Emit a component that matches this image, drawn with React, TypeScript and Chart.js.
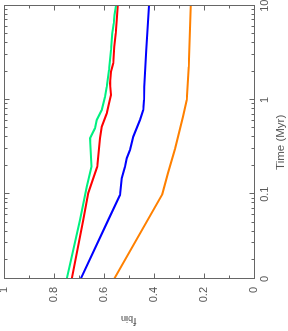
import React, { useEffect, useRef } from "react";
import { Chart, registerables } from "chart.js";

Chart.register(...registerables);

// ---- axis ranges & ticks ----
const T_MIN = 0.0126;
const T_MAX = 10;
const timeLabelTicks = [T_MIN, 0.1, 1, 10];
const timeLabelText = ["0", "0.1", "1", "10"];
const timeMajorTicks = [0.1, 1];
const timeMinorTicks = [
  0.02, 0.03, 0.04, 0.05, 0.06, 0.07, 0.08, 0.09,
  0.2, 0.3, 0.4, 0.5, 0.6, 0.7, 0.8, 0.9,
  2, 3, 4, 5, 6, 7, 8, 9,
];
const fbinMajorTicks = [0, 0.2, 0.4, 0.6, 0.8, 1];
const fbinLabelText = ["0", "0.2", "0.4", "0.6", "0.8", "1"];
const fbinMinorTicks = [0.1, 0.3, 0.5, 0.7, 0.9];

// ---- series (time in Myr, binary fraction) ----
const greenTime = [0.0126, 0.0533, 0.12, 0.196, 0.393, 0.501, 0.614, 0.783, 1.08, 1.38, 2.08, 3.39, 5.1, 6.5, 8.0, 10];
const greenFbin = [0.749, 0.696, 0.669, 0.65, 0.656, 0.636, 0.629, 0.609, 0.596, 0.589, 0.58, 0.572, 0.567, 0.561, 0.558, 0.552];

const redTime = [0.0126, 0.0533, 0.103, 0.196, 0.393, 0.521, 0.72, 0.92, 1.13, 1.5, 2.0, 2.45, 3.67, 4.33, 5.1, 7.05, 10];
const redFbin = [0.729, 0.683, 0.663, 0.627, 0.616, 0.609, 0.589, 0.58, 0.572, 0.576, 0.572, 0.563, 0.559, 0.556, 0.553, 0.549, 0.545];

const blueTime = [0.0126, 0.0533, 0.098, 0.148, 0.196, 0.241, 0.295, 0.408, 0.614, 0.783, 1.0, 1.38, 3.39, 10];
const blueFbin = [0.693, 0.583, 0.536, 0.529, 0.516, 0.509, 0.496, 0.483, 0.456, 0.443, 0.44, 0.439, 0.431, 0.42];

const orangeTime = [0.0126, 0.1, 0.168, 0.302, 0.665, 1.0, 2.25, 10];
const orangeFbin = [0.56, 0.367, 0.344, 0.316, 0.284, 0.269, 0.261, 0.253];

const GREEN = "#00f080";
const RED = "#ff0000";
const BLUE = "#0000ff";
const ORANGE = "#ff8000";

const AXIS_COLOR = "#666666";
const TEXT_COLOR = "#555555";
const FONT_FAMILY = "'Liberation Sans', Arial, Helvetica, sans-serif";

const W = 331;
const H = 288;

const toPoints = (xs: number[], ys: number[]) => xs.map((x, i) => ({ x, y: ys[i] }));

const framePlugin = {
  id: "frameTicks",
  afterDatasetsDraw(chart: any) {
    const { ctx, chartArea: a, scales } = chart;
    const xs = scales.x;
    const ys = scales.y;
    ctx.save();
    ctx.strokeStyle = AXIS_COLOR;
    ctx.lineWidth = 1;
    const L = Math.round(a.left) + 0.5;
    const R = Math.round(a.right) + 0.5;
    const T = Math.round(a.top) + 0.5;
    const B = Math.round(a.bottom) + 0.5;
    ctx.strokeRect(L, T, R - L, B - T);
    ctx.beginPath();
    const xt = (v: number, len: number) => {
      const p = Math.round(xs.getPixelForValue(v)) + 0.5;
      ctx.moveTo(p, B);
      ctx.lineTo(p, B - len);
      ctx.moveTo(p, T);
      ctx.lineTo(p, T + len);
    };
    const yt = (v: number, len: number) => {
      const p = Math.round(ys.getPixelForValue(v)) + 0.5;
      ctx.moveTo(L, p);
      ctx.lineTo(L + len, p);
      ctx.moveTo(R, p);
      ctx.lineTo(R - len, p);
    };
    timeMajorTicks.forEach((v) => xt(v, 5));
    timeMinorTicks.forEach((v) => xt(v, 3));
    fbinMajorTicks.forEach((v) => yt(v, 5));
    fbinMinorTicks.forEach((v) => yt(v, 3));
    ctx.stroke();

    // y-axis title: f_bin with subscript
    const cy = (a.top + a.bottom) / 2;
    ctx.translate(13, cy);
    ctx.rotate(-Math.PI / 2);
    ctx.fillStyle = TEXT_COLOR;
    ctx.textBaseline = "alphabetic";
    ctx.textAlign = "left";
    const fFont = `11.5px ${FONT_FAMILY}`;
    const sFont = `9px ${FONT_FAMILY}`;
    ctx.font = fFont;
    const wf = ctx.measureText("f").width;
    ctx.font = sFont;
    const ws = ctx.measureText("bin").width;
    const start = -(wf + ws) / 2;
    ctx.font = fFont;
    ctx.fillText("f", start, 0);
    ctx.font = sFont;
    ctx.fillText("bin", start + wf + 0.5, 1.5);
    ctx.restore();
  },
};

export default function App() {
  const canvasRef = useRef<HTMLCanvasElement | null>(null);

  useEffect(() => {
    if (!canvasRef.current) return;
    const font = { family: FONT_FAMILY, size: 11 };
    const chart = new Chart(canvasRef.current, {
      type: "line",
      data: {
        datasets: [
          { data: toPoints(orangeTime, orangeFbin), borderColor: ORANGE },
          { data: toPoints(blueTime, blueFbin), borderColor: BLUE },
          { data: toPoints(greenTime, greenFbin), borderColor: GREEN },
          { data: toPoints(redTime, redFbin), borderColor: RED },
        ].map((d) => ({ ...d, borderWidth: 2, pointRadius: 0, tension: 0, fill: false })),
      },
      options: {
        animation: false,
        responsive: false,
        devicePixelRatio: 1,
        layout: { padding: { top: 4, right: 5.7, bottom: 0, left: 0 } },
        plugins: { legend: { display: false }, tooltip: { enabled: false } },
        scales: {
          x: {
            type: "logarithmic",
            min: T_MIN,
            max: T_MAX,
            grid: { display: false, drawTicks: false },
            border: { display: false },
            afterBuildTicks: (s: any) => {
              s.ticks = timeLabelTicks.map((v) => ({ value: v }));
            },
            ticks: {
              autoSkip: false,
              maxRotation: 0,
              minRotation: 0,
              padding: 4,
              color: TEXT_COLOR,
              font,
              callback: (v: any) => {
                const i = timeLabelTicks.indexOf(Number(v));
                return i >= 0 ? timeLabelText[i] : "";
              },
            },
            title: {
              display: true,
              text: "Time (Myr)",
              padding: 0,
              color: TEXT_COLOR,
              font: { family: FONT_FAMILY, size: 11.5 },
            },
            afterFit: (s: any) => {
              s.height = 34;
              s.paddingLeft = 0;
              s.paddingRight = 0;
            },
          },
          y: {
            type: "linear",
            min: 0,
            max: 1,
            grid: { display: false, drawTicks: false },
            border: { display: false },
            afterBuildTicks: (s: any) => {
              s.ticks = fbinMajorTicks.map((v) => ({ value: v }));
            },
            ticks: {
              autoSkip: false,
              padding: 8,
              color: TEXT_COLOR,
              font,
              callback: (v: any) => {
                const i = fbinMajorTicks.findIndex((t) => Math.abs(t - Number(v)) < 1e-9);
                return i >= 0 ? fbinLabelText[i] : "";
              },
            },
            afterFit: (s: any) => {
              s.width = 52;
              s.paddingTop = 0;
              s.paddingBottom = 0;
            },
          },
        },
      } as any,
      plugins: [framePlugin],
    });
    return () => chart.destroy();
  }, []);

  return (
    <div
      style={{
        position: "fixed",
        left: 0,
        top: 0,
        width: 288,
        height: 331,
        overflow: "hidden",
        background: "#ffffff",
      }}
    >
      <div
        style={{
          position: "absolute",
          left: 0,
          top: 0,
          width: W,
          height: H,
          transformOrigin: "0 0",
          transform: `translate(0px, ${W}px) rotate(-90deg)`,
        }}
      >
        <canvas ref={canvasRef} width={W} height={H} style={{ display: "block", width: W, height: H }} />
      </div>
    </div>
  );
}
